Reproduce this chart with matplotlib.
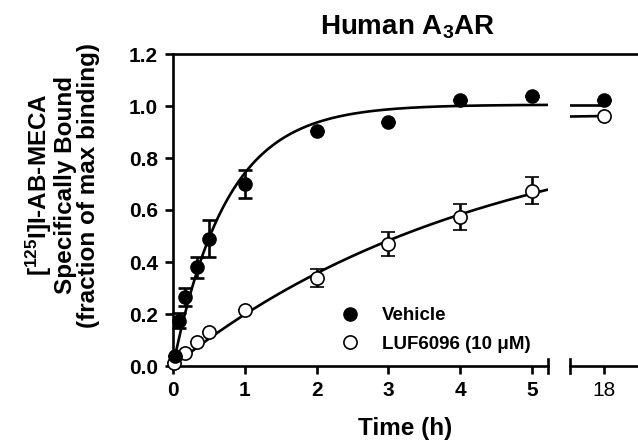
import numpy as np
import matplotlib
matplotlib.use("Agg")
import matplotlib.pyplot as plt
from matplotlib.lines import Line2D

plt.rcParams["font.family"] = ["Liberation Sans", "DejaVu Sans"]
plt.rcParams["mathtext.fontset"] = "custom"
plt.rcParams["mathtext.rm"] = "Liberation Sans:bold"
plt.rcParams["mathtext.bf"] = "Liberation Sans:bold"
plt.rcParams["mathtext.it"] = "Liberation Sans:bold"

# data (time in h, fraction of max binding)
veh_t = [0.033, 0.083, 0.167, 0.333, 0.5, 1, 2, 3, 4, 5, 18]
veh_y = [0.04, 0.175, 0.265, 0.38, 0.49, 0.70, 0.905, 0.94, 1.025, 1.04, 1.025]
veh_err = [0.0, 0.03, 0.035, 0.04, 0.07, 0.052, 0.0, 0.0, 0.0, 0.0, 0.0]

luf_t = [0.017, 0.167, 0.333, 0.5, 1, 2, 3, 4, 5, 18]
luf_y = [0.01, 0.05, 0.092, 0.13, 0.215, 0.34, 0.47, 0.575, 0.675, 0.962]
luf_err = [0.0, 0.0, 0.0, 0.0, 0.0, 0.035, 0.045, 0.05, 0.05, 0.0]

y_ticks = [0.0, 0.2, 0.4, 0.6, 0.8, 1.0, 1.2]
x_ticks_left = [0, 1, 2, 3, 4, 5]
x_ticks_right = [18]


def fit_association(t, y):
    # one-phase association Y = Ymax*(1-exp(-k t)), least squares over a k grid
    t = np.asarray(t, float)
    y = np.asarray(y, float)
    best = None
    for k in np.linspace(0.01, 5, 5000):
        f = 1 - np.exp(-k * t)
        ymax = f.dot(y) / f.dot(f)
        sse = ((ymax * f - y) ** 2).sum()
        if best is None or sse < best[0]:
            best = (sse, ymax, k)
    return best[1], best[2]


W, H = 638, 442
fig = plt.figure(figsize=(W / 100, H / 100), dpi=100)

x0, x1, x2, x3 = 173, 548, 570, 638
ytop, ybot = 54, 366
axl = fig.add_axes([x0 / W, 1 - ybot / H, (x1 - x0) / W, (ybot - ytop) / H])
axr = fig.add_axes([x2 / W, 1 - ybot / H, (x3 - x2) / W, (ybot - ytop) / H])

px_per_h = (532 - 173) / 5.0
axl.set_xlim(0, (x1 - x0) / px_per_h)
axr.set_xlim(18 - (604 - x2) / px_per_h, 18 + (x3 - 604) / px_per_h)

lw = 1.9
mk = 9.5
for ax in (axl, axr):
    ax.set_ylim(0, 1.2)
    for s in ("right", "top"):
        ax.spines[s].set_visible(False)
    ax.spines["bottom"].set_linewidth(lw)
    ax.spines["left"].set_linewidth(lw)
    ax.tick_params(direction="out", length=6, width=lw, pad=5)
    ax.patch.set_visible(False)

axr.spines["left"].set_visible(False)
axr.tick_params(axis="y", left=False, labelleft=False)

# fitted curves
for t, y in ((veh_t, veh_y), (luf_t, luf_y)):
    ymax, k = fit_association(t, y)
    tl = np.linspace(0, axl.get_xlim()[1], 200)
    axl.plot(tl, ymax * (1 - np.exp(-k * tl)), color="black", lw=lw, zorder=2)
    tr = np.linspace(axr.get_xlim()[0], 18, 20)
    axr.plot(tr, ymax * (1 - np.exp(-k * tr)), color="black", lw=lw, zorder=2)

for ax in (axl, axr):
    ax.errorbar(veh_t, veh_y, yerr=veh_err, fmt="o", ms=mk, mfc="black",
                mec="black", ecolor="black", elinewidth=lw, capsize=5,
                capthick=lw, zorder=4, clip_on=False)
    ax.errorbar(luf_t, luf_y, yerr=luf_err, fmt="o", ms=mk, mfc="white",
                mec="black", mew=1.2, ecolor="black", elinewidth=lw,
                capsize=5, capthick=lw, zorder=3, clip_on=False)

axl.set_yticks(y_ticks)
axl.set_yticklabels([f"{v:.1f}" for v in y_ticks], fontsize=15,
                    fontweight="bold")
axl.set_xticks(x_ticks_left)
axl.set_xticklabels([str(v) for v in x_ticks_left], fontsize=15,
                    fontweight="bold")
axr.set_xticks(x_ticks_right)
axr.set_xticklabels([str(v) for v in x_ticks_right], fontsize=15)

# break caps on the x axis
for xp in (x1, x2):
    fig.add_artist(Line2D([xp / W, xp / W], [1 - (ybot - 7) / H, 1 - (ybot + 7) / H],
                          color="black", lw=lw))
# continuous top frame
fig.add_artist(Line2D([x0 / W, 1.0], [1 - ytop / H, 1 - ytop / H],
                      color="black", lw=lw))

fig.text(408 / W, 1 - 27 / H, "Human A$_3$AR", ha="center", va="center",
         fontsize=20, fontweight="bold")
fig.text(405 / W, 1 - 429 / H, "Time (h)", ha="center", va="center",
         fontsize=17.5, fontweight="bold")
fig.text(62 / W, 1 - 185 / H,
         "[$^{125}$I]I-AB-MECA\nSpecifically Bound\n(fraction of max binding)",
         rotation=90, ha="center", va="center", multialignment="center",
         fontsize=17.5, fontweight="bold", linespacing=1.0)

handles = [
    Line2D([], [], ls="none", marker="o", ms=mk, mfc="black", mec="black"),
    Line2D([], [], ls="none", marker="o", ms=mk, mfc="white", mec="black", mew=1.2),
]
axl.legend(handles, ["Vehicle", "LUF6096 (10 \u03bcM)"], loc="lower left",
           bbox_to_anchor=((318 - x0) / (x1 - x0), 0.0), frameon=False,
           prop={"weight": "bold", "size": 13.5}, handletextpad=0.7,
           labelspacing=0.6, borderpad=0.2)

fig.savefig("out.png", dpi=100)
